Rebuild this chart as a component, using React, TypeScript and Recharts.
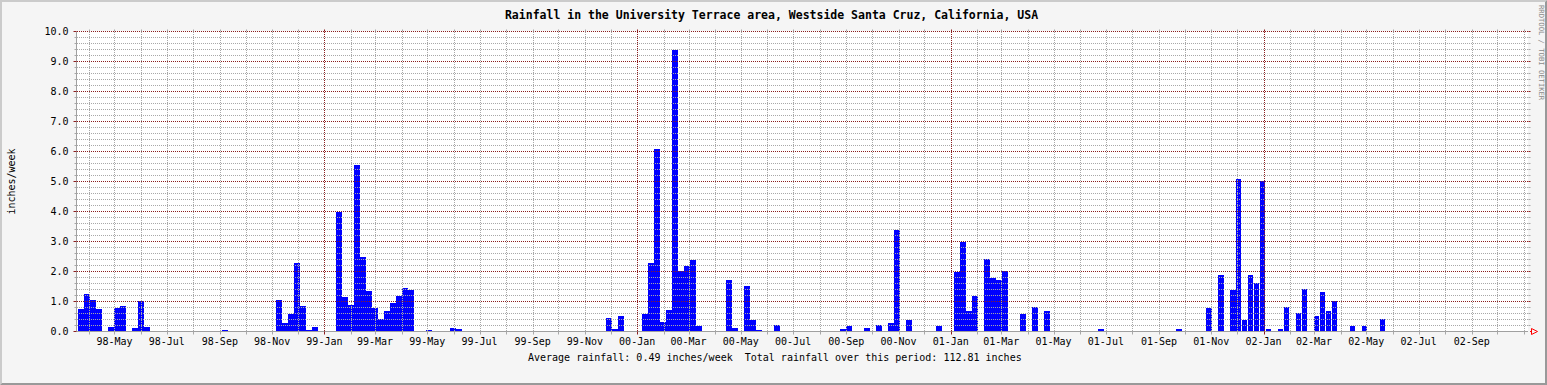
import React from "react";
import { ComposedChart, Bar, XAxis, YAxis, CartesianGrid, ReferenceLine } from "recharts";

// weekly totals, first week starts 1998-03-20
const START = Date.UTC(1998, 2, 20);
const WEEK = 7 * 24 * 3600 * 1000;

const rainfall: number[] = [
  0.74, 1.24, 1.04, 0.74, 0, 0.14, 0.8, 0.84, 0, 0.11, 1.01, 0.14,
  0, 0, 0, 0, 0, 0, 0, 0, 0, 0, 0, 0,
  0.04, 0, 0, 0, 0, 0, 0, 0, 0, 1.04, 0.27, 0.59,
  2.28, 0.84, 0.04, 0.14, 0, 0, 0, 3.99, 1.16, 0.88, 5.56, 2.48,
  1.34, 0.79, 0.43, 0.68, 0.94, 1.19, 1.44, 1.39, 0, 0, 0.04, 0,
  0, 0, 0.11, 0.08, 0, 0, 0, 0, 0, 0, 0, 0,
  0, 0, 0, 0, 0, 0, 0, 0, 0, 0, 0, 0,
  0, 0, 0, 0, 0.44, 0.07, 0.53, 0, 0, 0, 0.58, 2.27,
  6.1, 0.33, 0.73, 9.4, 2.03, 2.17, 2.4, 0.2, 0, 0, 0, 0,
  1.73, 0.11, 0, 1.53, 0.4, 0.04, 0, 0, 0.23, 0, 0, 0,
  0, 0, 0, 0, 0, 0, 0, 0.07, 0.17, 0, 0, 0.13,
  0, 0.23, 0, 0.3, 3.38, 0, 0.4, 0.03, 0, 0, 0, 0.2,
  0, 0, 2.0, 3.0, 0.7, 1.17, 0, 2.43, 1.77, 1.73, 2.03, 0,
  0, 0.57, 0, 0.83, 0, 0.67, 0, 0, 0, 0, 0, 0,
  0, 0, 0.07, 0, 0, 0, 0, 0, 0, 0, 0, 0,
  0, 0, 0, 0.1, 0, 0, 0, 0, 0.78, 0, 1.9, 0.03,
  1.37, 5.07, 0.4, 1.9, 1.63, 5.03, 0.07, 0, 0.07, 0.83, 0, 0.63,
  1.43, 0, 0.53, 1.33, 0.7, 1.03, 0, 0, 0.18, 0, 0.18, 0,
  0, 0.43, 0, 0, 0, 0, 0, 0, 0, 0, 0, 0,
];

const xTickLabels = [
  "98-May", "98-Jul", "98-Sep", "98-Nov",
  "99-Jan", "99-Mar", "99-May", "99-Jul", "99-Sep", "99-Nov",
  "00-Jan", "00-Mar", "00-May", "00-Jul", "00-Sep", "00-Nov",
  "01-Jan", "01-Mar", "01-May", "01-Jul", "01-Sep", "01-Nov",
  "02-Jan", "02-Mar", "02-May", "02-Jul", "02-Sep",
];
const yTickLabels = ["0.0", "1.0", "2.0", "3.0", "4.0", "5.0", "6.0", "7.0", "8.0", "9.0", "10.0"];

const MON = ["Jan", "Feb", "Mar", "Apr", "May", "Jun", "Jul", "Aug", "Sep", "Oct", "Nov", "Dec"];
const X_DOMAIN: [number, number] = [-1 / 3, 241 + 2 / 3];
const PLOT_W = 1452;
const PLOT_H = 300;

const data = rainfall.map((v, i) => ({ week: i + 0.5, rain: v }));

// month grid lines, one per month start inside the plot
const months: { week: number; label: string; year: boolean }[] = [];
for (let y = 1998; y <= 2002; y++) {
  for (let m = 0; m < 12; m++) {
    const week = (Date.UTC(y, m, 1) - START) / WEEK;
    if (week < X_DOMAIN[0] || week > X_DOMAIN[1]) continue;
    months.push({ week, label: `${String(y).slice(2)}-${MON[m]}`, year: m === 0 });
  }
}
const yTicks = Array.from({ length: 51 }, (_, i) => Math.round(i * 2) / 10);

const FONT = "'DejaVu Sans Mono', monospace";
const GRID = "#a8a8a8";
const MGRID = "#8c1e1e";

const XTick = (props: any) => {
  const { x, y, payload } = props;
  const m = months.find((d) => Math.abs(d.week - payload.value) < 1e-6);
  if (!m) return null;
  const px = Math.round(x) + 0.5;
  const c = m.year ? MGRID : GRID;
  return (
    <g>
      <line x1={px} x2={px} y1={y} y2={y + 3} stroke={c} />
      <line x1={px} x2={px} y1={y - PLOT_H - 2} y2={y - PLOT_H} stroke={c} />
      {xTickLabels.includes(m.label) && (
        <text x={x} y={y + 13} textAnchor="middle" fontFamily={FONT} fontSize={10} fill="#000">
          {m.label}
        </text>
      )}
    </g>
  );
};

const YTick = (props: any) => {
  const { x, y, payload } = props;
  const v = payload.value as number;
  const major = Math.abs(v - Math.round(v)) < 1e-6;
  const c = major ? MGRID : GRID;
  return (
    <g>
      <line x1={x - (major ? 3 : 2)} x2={x} y1={y} y2={y} stroke={c} />
      {v > 0 && <line x1={x + PLOT_W} x2={x + PLOT_W + 2} y1={y} y2={y} stroke={c} />}
      {major && (
        <text x={x - 8} y={y + 3.5} textAnchor="end" fontFamily={FONT} fontSize={10} fill="#000">
          {yTickLabels[Math.round(v)]}
        </text>
      )}
    </g>
  );
};

// dotted grid lines snapped to whole pixels, so the 1px dots stay sharp
const VGrid = (props: any) => {
  const { x1, y1, y2, stroke } = props;
  const px = Math.round(x1) + 0.5;
  return (
    <line x1={px} x2={px} y1={Math.round(Math.min(y1, y2))} y2={Math.round(Math.max(y1, y2))} stroke={stroke} strokeDasharray="1 1" />
  );
};
const HGrid = (props: any) => {
  const { x1, x2, y1, stroke } = props;
  const py = Math.round(y1 - 0.5) + 0.5;
  return (
    <line x1={Math.round(Math.min(x1, x2))} x2={Math.round(Math.max(x1, x2))} y1={py} y2={py} stroke={stroke} strokeDasharray="1 1" />
  );
};

export default function App() {
  return (
    <div style={{ position: "absolute", left: 0, top: 0, width: 1547, height: 385, background: "#f5f5f5" }}>
      <ComposedChart width={1547} height={385} data={data} margin={{ top: 31.5, right: 19, bottom: 0, left: 0 }}>
        <CartesianGrid fill="#ffffff" stroke="none" horizontal={false} vertical={false} />
        <XAxis
          dataKey="week"
          type="number"
          domain={X_DOMAIN}
          allowDataOverflow
          ticks={months.map((m) => m.week)}
          interval={0}
          height={53.5}
          tickSize={0}
          tickMargin={0}
          tick={<XTick />}
          axisLine={{ stroke: "#a0a0a0" }}
        />
        <YAxis
          type="number"
          domain={[0, 10]}
          ticks={yTicks}
          interval={0}
          width={76.5}
          tickSize={0}
          tickMargin={0}
          tick={<YTick />}
          axisLine={{ stroke: "#a0a0a0" }}
        />
        <Bar
          dataKey="rain"
          fill="#0000ff"
          barSize={6}
          minPointSize={1}
          shapeRendering="crispEdges"
          isAnimationActive={false}
        />
        {yTicks
          .filter((v) => v > 0)
          .map((v) => (
            <ReferenceLine
              key={`h${v}`}
              y={v}
              stroke={Number.isInteger(v) ? MGRID : GRID}
              shape={<HGrid />}
              zIndex={350}
            />
          ))}
        {months.map((m) => (
          <ReferenceLine
            key={`v${m.week}`}
            x={m.week}
            stroke={m.year ? MGRID : GRID}
            shape={<VGrid />}
            zIndex={350}
          />
        ))}
      </ComposedChart>
      <svg
        width={1547}
        height={385}
        style={{ position: "absolute", left: 0, top: 0, pointerEvents: "none" }}
      >
        <polygon points="0,0 1547,0 1545,2 2,2 2,383 0,385" fill="#cbcbcb" />
        <polygon points="1547,0 1547,385 0,385 2,383 1545,383 1545,2" fill="#999999" />
        <text x={771.5} y={19} textAnchor="middle" fontFamily={FONT} fontSize={11.5} fontWeight="bold" fill="#000">
          Rainfall in the University Terrace area, Westside Santa Cruz, California, USA
        </text>
        <text
          x={528}
          y={361}
          fontFamily={FONT}
          fontSize={10}
          fill="#000"
          style={{ whiteSpace: "pre" }}
        >
          {"Average rainfall: 0.49 inches/week  Total rainfall over this period: 112.81 inches"}
        </text>
        <text
          transform="translate(15,181.5) rotate(-90)"
          textAnchor="middle"
          fontFamily={FONT}
          fontSize={10}
          fill="#000"
        >
          inches/week
        </text>
        <text
          transform="translate(1538.5,5) rotate(90)"
          fontFamily={FONT}
          fontSize={7.2}
          fill="#8a8a8a"
        >
          RRDTOOL / TOBI OETIKER
        </text>
        <line x1={1530} x2={1531.5} y1={331.5} y2={331.5} stroke="#ff0000" />
        <polygon points="1531.5,328.5 1537.5,331.5 1531.5,334.5" fill="none" stroke="#ff0000" />
      </svg>
    </div>
  );
}
